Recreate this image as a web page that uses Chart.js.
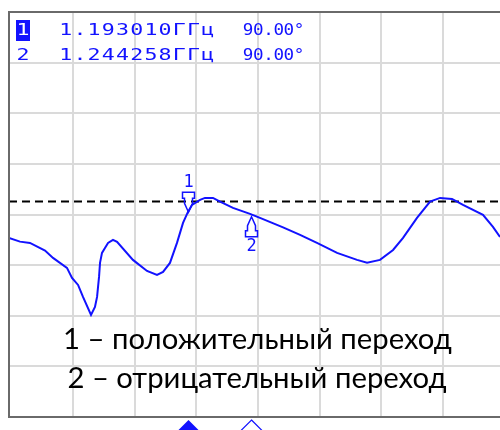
<!DOCTYPE html>
<html><head><meta charset="utf-8">
<script src="https://cdn.jsdelivr.net/npm/chart.js@4"></script>
<style>html,body{margin:0;padding:0;background:#fff;overflow:hidden}</style>
</head><body>
<canvas id="c" width="500" height="430"></canvas>
<script>
// ---- data ----
const freqGHz = [1.0481,1.0570,1.0651,1.0773,1.0838,1.0951,1.0992,1.1041,1.1081,1.1146,1.1178,1.1195,1.1211,1.1219,1.1235,1.1259,1.1284,1.1324,1.1357,1.1486,1.1600,1.1681,1.1730,1.1786,1.1843,1.1892,1.1932,1.1965,1.2030,1.2070,1.2135,1.2192,1.2297,1.2435,1.2516,1.2703,1.2841,1.2978,1.3141,1.3303,1.3384,1.3489,1.3595,1.3676,1.3789,1.3895,1.3976,1.4073,1.4162,1.4324,1.4405,1.4462];
const phaseDeg = [82.83,82.09,81.84,80.32,78.87,76.90,74.92,73.54,71.17,67.61,69.19,71.17,75.12,77.89,79.86,80.85,81.84,82.43,82.04,78.48,76.30,75.51,76.11,77.89,81.84,85.79,87.96,89.35,90.34,90.73,90.73,90.00,88.75,87.57,86.78,84.90,83.42,81.84,79.86,78.48,77.94,78.48,80.45,82.83,86.78,90.00,90.73,90.53,89.35,87.37,85.00,83.02];
const markerNames = ['1','2'];
const markerFreq = [1.193010, 1.244258];
const markerPhase = [87.9, 87.0];
const markerReadFreq = ['1.193010','1.244258'];
const markerReadPhase = ['90.00','90.00'];
const freqUnit = 'ГГц';
const phaseUnit = '°';
const refLevel = 90;
const xGrid = [1.10,1.15,1.20,1.25,1.30,1.35,1.40];
const xMin = 1.0481, xMax = 1.4462;
const yMin = 47.45, yMax = 127.45, yDiv = 10;
const noteLines = ['1 – положительный переход','2 – отрицательный переход'];

const BLUE = '#1212ff';
const GRID = '#dadada';
const FRAME = '#6a6a6a';

function drawPitched(ctx, s, x0, pitch, cy, sx, color) {
  for (let k = 0; k < s.length; k++) {
    ctx.fillStyle = color;
    ctx.save();
    ctx.translate(x0 + k * pitch + pitch / 2, cy);
    ctx.scale(sx, 1);
    ctx.fillText(s[k], 0, 0);
    ctx.restore();
  }
}

const overlay = {
  id: 'overlay',
  beforeDatasetsDraw(chart) {
    const {ctx, chartArea: a, scales: {y}} = chart;
    const ry = y.getPixelForValue(refLevel);
    ctx.save();
    ctx.strokeStyle = '#000';
    ctx.lineWidth = 2;
    ctx.setLineDash([8, 5]);
    ctx.beginPath(); ctx.moveTo(a.left, ry); ctx.lineTo(a.right, ry); ctx.stroke();
    ctx.restore();
  },
  afterDraw(chart) {
    const {ctx, chartArea: a, scales: {x, y}} = chart;
    ctx.save();
    ctx.strokeStyle = BLUE; ctx.fillStyle = BLUE; ctx.lineWidth = 1.5;
    ctx.font = '17px "DejaVu Sans Mono"'; ctx.textAlign = 'center'; ctx.textBaseline = 'middle';
    markerNames.forEach((n, i) => {
      const px = Math.round(x.getPixelForValue(markerFreq[i])) + 0.5;
      const py = y.getPixelForValue(markerPhase[i]);
      const d = i === 0 ? -1 : 1;
      ctx.beginPath();
      ctx.moveTo(px, py);
      ctx.lineTo(px - 4, py + d * 9);
      ctx.lineTo(px - 4, py + d * 14);
      ctx.lineTo(px - 6, py + d * 14);
      ctx.lineTo(px - 6, py + d * 20);
      ctx.lineTo(px + 6, py + d * 20);
      ctx.lineTo(px + 6, py + d * 14);
      ctx.lineTo(px + 4, py + d * 14);
      ctx.lineTo(px + 4, py + d * 9);
      ctx.closePath();
      ctx.stroke();
      ctx.fillStyle = BLUE;
      ctx.fillText(n, px, py + d * 30);
      const by = a.bottom + 14;
      ctx.beginPath();
      ctx.moveTo(px, by - 11); ctx.lineTo(px + 11, by); ctx.lineTo(px, by + 11); ctx.lineTo(px - 11, by); ctx.closePath();
      if (i === 0) ctx.fill(); else { ctx.lineWidth = 1.2; ctx.stroke(); ctx.lineWidth = 1.5; }
    });
    // readout
    ctx.font = '16px "DejaVu Sans Mono"';
    markerNames.forEach((n, i) => {
      const cy = 31 + i * 25;
      if (i === 0) { ctx.fillStyle = BLUE; ctx.fillRect(16, cy - 11, 14, 21); }
      drawPitched(ctx, n, 16, 14.2, cy, 1.35, i === 0 ? '#fff' : BLUE);
      drawPitched(ctx, markerReadFreq[i] + freqUnit, 58.6, 14.2, cy, 1.35, BLUE);
      drawPitched(ctx, markerReadPhase[i], 243, 10.2, cy, 1.1, BLUE);
      drawPitched(ctx, phaseUnit, 294, 10, cy, 1.1, BLUE);
    });
    // notes
    ctx.fillStyle = '#000';
    let fs = 26;
    ctx.font = fs + 'px Lato';
    const w = ctx.measureText(noteLines[0]).width;
    fs = fs * 389 / w;
    ctx.font = fs.toFixed(2) + 'px Lato';
    ctx.fillText(noteLines[0], 257.5, 340);
    ctx.fillText(noteLines[1], 257, 379);
    // frame
    ctx.strokeStyle = FRAME; ctx.lineWidth = 2;
    ctx.beginPath();
    ctx.moveTo(a.right, a.top); ctx.lineTo(a.left, a.top); ctx.lineTo(a.left, a.bottom); ctx.lineTo(a.right, a.bottom);
    ctx.stroke();
    ctx.restore();
  }
};

new Chart(document.getElementById('c'), {
  type: 'line',
  data: { datasets: [{ data: freqGHz.map((f, i) => ({x: f, y: phaseDeg[i]})), borderColor: BLUE, borderWidth: 2, pointRadius: 0, tension: 0, fill: false }] },
  options: {
    responsive: false, animation: false, devicePixelRatio: 1,
    layout: { padding: { left: 9, top: 12, right: 0, bottom: 13 } },
    plugins: { legend: { display: false }, tooltip: { enabled: false } },
    scales: {
      x: { type: 'linear', min: xMin, max: xMax,
           afterBuildTicks: s => { s.ticks = xGrid.map(v => ({value: v})); },
           ticks: { display: false }, border: { display: false },
           grid: { color: GRID, lineWidth: 2, drawTicks: false } },
      y: { type: 'linear', min: yMin, max: yMax,
           afterBuildTicks: s => { const t = []; for (let v = yMin + yDiv; v < yMax - 0.01; v += yDiv) t.push({value: v}); s.ticks = t; },
           ticks: { display: false }, border: { display: false },
           grid: { color: GRID, lineWidth: 2, drawTicks: false } }
    }
  },
  plugins: [overlay]
});
</script>
</body></html>
